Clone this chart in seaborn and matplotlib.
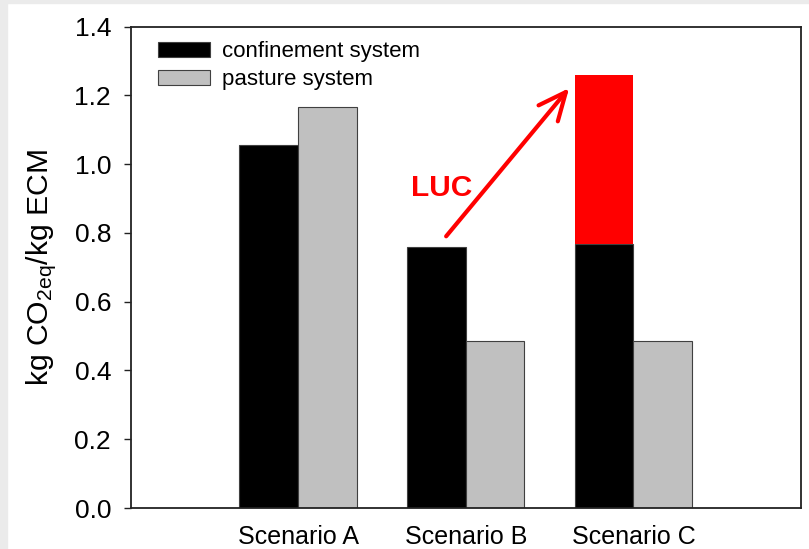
import seaborn as sns
import matplotlib.pyplot as plt
import pandas as pd
import numpy as np
from matplotlib.patches import Patch, Rectangle

# Chart data
scenarios = ["Scenario A", "Scenario B", "Scenario C"]
confinement = [1.054, 0.760, 0.768]
pasture = [1.166, 0.486, 0.486]
luc_extra = [0.0, 0.0, 0.492]  # land use change added on top of confinement
systems = ["confinement system", "pasture system"]
y_ticks = [0.0, 0.2, 0.4, 0.6, 0.8, 1.0, 1.2, 1.4]

# arrow from Scenario B bar to the LUC stack (data coords)
arrow_start = (0.883, 0.790)
arrow_end = (1.617, 1.221)

sns.set_theme(style="white")
plt.rcParams["font.family"] = ["Liberation Sans", "DejaVu Sans"]
plt.rcParams["mathtext.default"] = "regular"
for k in ["text.color", "axes.labelcolor", "xtick.color", "ytick.color"]:
    plt.rcParams[k] = "black"

df = pd.DataFrame({
    "scenario": scenarios * 2,
    "system": [systems[0]] * 3 + [systems[1]] * 3,
    "value": confinement + pasture,
})
colors = {systems[0]: "black", systems[1]: "#c0c0c0"}

fig = plt.figure(figsize=(8.09, 5.49), dpi=100)
fig.patch.set_facecolor("white")
# light grey frame strips at the top and left edge
fig.patches.append(Rectangle((0, 1 - 3 / 549), 1, 3 / 549, transform=fig.transFigure,
                             color="#ebebeb", zorder=-10))
fig.patches.append(Rectangle((0, 0), 7 / 809, 1, transform=fig.transFigure,
                             color="#ebebeb", zorder=-10))

ax = fig.add_axes([130.5 / 809, 1 - 508 / 549, 670.5 / 809, 481.5 / 549])
sns.barplot(data=df, x="scenario", y="value", hue="system", palette=colors,
            width=0.7, edgecolor="#404040", linewidth=0.8, legend=False, ax=ax)

# stack the LUC part on top of the confinement bars
for bar, extra in zip(ax.containers[0], luc_extra):
    if extra > 0:
        ax.bar(bar.get_x() + bar.get_width() / 2, extra, width=bar.get_width(),
               bottom=bar.get_height(), color="red", edgecolor="none", zorder=3)

ax.annotate("", xy=arrow_end, xytext=arrow_start,
            arrowprops=dict(arrowstyle="->,head_length=1.0,head_width=0.45",
                            color="red", lw=3, mutation_scale=20,
                            shrinkA=0, shrinkB=0))
ax.text(0.855, 0.930, "LUC", color="red", fontsize=21.5, fontweight="bold",
        ha="center", va="center")

ax.set_xlim(-1, 3)
ax.set_ylim(0, 1.4)
ax.set_yticks(y_ticks)
ax.set_yticklabels([f"{t:.1f}" for t in y_ticks])
ax.set_xlabel("")
ax.set_ylabel("kg CO$_{2eq}$/kg ECM", fontsize=21.7, labelpad=11)
ax.tick_params(axis="y", which="major", left=True, length=5, width=1,
               direction="out", labelsize=19, pad=9, color="#222222")
ax.tick_params(axis="x", length=0, labelsize=18, pad=12)
for s in ax.spines.values():
    s.set_visible(True)
    s.set_color("#222222")
    s.set_linewidth(1.3)

handles = [Patch(facecolor=colors[s], edgecolor="#404040", linewidth=0.8) for s in systems]
ax.legend(handles, systems, loc="upper left", bbox_to_anchor=(158 / 809, 1 - 41 / 549),
          bbox_transform=fig.transFigure, frameon=False, fontsize=16,
          handlelength=2.35, handleheight=0.65, handletextpad=0.55,
          labelspacing=0.33, borderpad=0, borderaxespad=0)

fig.savefig("out.png", dpi=100)
